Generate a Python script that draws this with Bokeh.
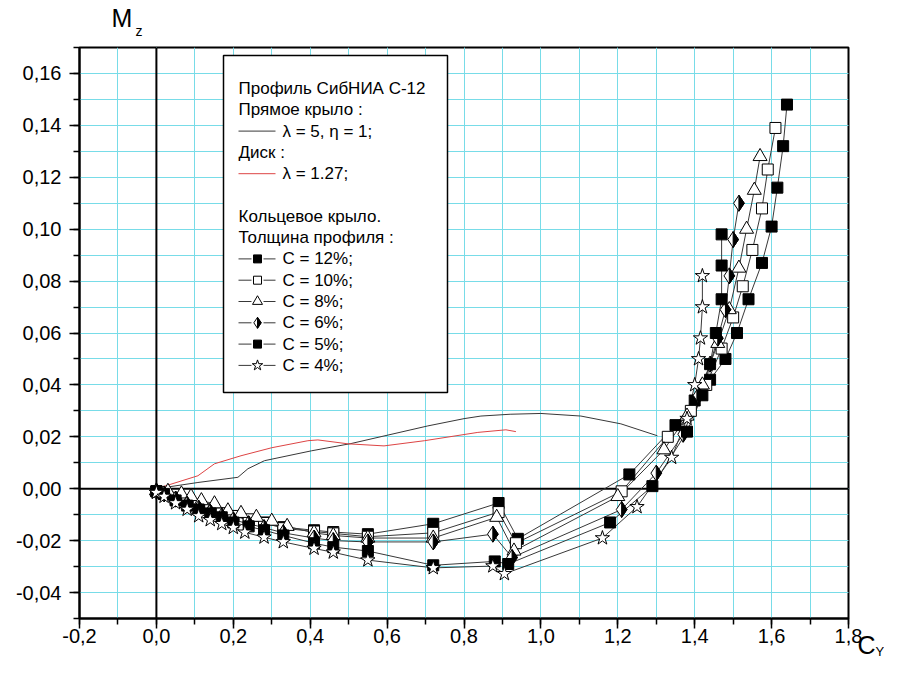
from bokeh.plotting import figure
from bokeh.models import (Range1d, SingleIntervalTicker, CustomJSTickFormatter, Span, Label)
from bokeh.embed import file_html
from bokeh.resources import INLINE

# ---------------- data ----------------
wing_cy = [0.0, 0.108, 0.212, 0.238, 0.281, 0.403, 0.506, 0.706, 0.80, 0.844, 0.92, 1.0, 1.104, 1.208, 1.303]
wing_mz = [0.0, 0.0024, 0.0044, 0.0077, 0.0108, 0.0146, 0.0174, 0.0242, 0.027, 0.028, 0.0287, 0.029, 0.028, 0.025, 0.0204]

disc_cy = [0.0, 0.108, 0.151, 0.22, 0.30, 0.394, 0.42, 0.498, 0.592, 0.697, 0.836, 0.909, 0.935]
disc_mz = [0.0, 0.005, 0.0096, 0.0127, 0.0158, 0.0185, 0.0188, 0.0173, 0.0165, 0.0185, 0.0217, 0.0227, 0.022]

c12_cy = [0.0, 0.02, 0.05, 0.08, 0.11, 0.14, 0.17, 0.20, 0.24, 0.28, 0.33, 0.41, 0.46, 0.55, 0.72, 0.89, 0.94,
          1.23, 1.35, 1.40, 1.44, 1.48, 1.51, 1.54, 1.575, 1.60, 1.615, 1.63, 1.64]
c12_mz = [-0.001, -0.002, -0.004, -0.0055, -0.007, -0.008, -0.0095, -0.0105, -0.012, -0.013, -0.0148, -0.016,
          -0.0167, -0.0175, -0.0135, -0.0055, -0.0193, 0.0055, 0.0245, 0.034, 0.042, 0.050, 0.060, 0.073,
          0.087, 0.101, 0.116, 0.132, 0.148]

c10_cy = [0.0, 0.02, 0.05, 0.08, 0.11, 0.14, 0.17, 0.20, 0.24, 0.28, 0.33, 0.41, 0.46, 0.55, 0.72, 0.89, 0.935,
          1.21, 1.33, 1.39, 1.43, 1.47, 1.50, 1.525, 1.55, 1.575, 1.59, 1.61]
c10_mz = [-0.001, -0.0015, -0.0035, -0.005, -0.0065, -0.008, -0.0095, -0.0105, -0.0118, -0.0132, -0.0152,
          -0.0165, -0.0172, -0.0185, -0.017, -0.009, -0.021, -0.001, 0.020, 0.030, 0.040, 0.054, 0.066, 0.078,
          0.092, 0.108, 0.123, 0.139]

c8_cy = [0.0, 0.03, 0.065, 0.09, 0.117, 0.151, 0.186, 0.22, 0.26, 0.30, 0.34, 0.41, 0.46, 0.55, 0.72, 0.885, 0.93,
         1.20, 1.32, 1.38, 1.42, 1.46, 1.49, 1.515, 1.535, 1.555, 1.57]
c8_mz = [-0.0008, -0.001, -0.002, -0.003, -0.0046, -0.0058, -0.0085, -0.0095, -0.011, -0.0125, -0.0145, -0.017,
         -0.018, -0.019, -0.019, -0.011, -0.024, -0.003, 0.015, 0.028, 0.040, 0.056, 0.069, 0.085, 0.100,
         0.115, 0.128]

c6_cy = [0.0, 0.02, 0.05, 0.08, 0.11, 0.14, 0.17, 0.20, 0.24, 0.28, 0.33, 0.41, 0.46, 0.55, 0.72, 0.875, 0.925,
         1.21, 1.30, 1.37, 1.41, 1.44, 1.46, 1.48, 1.49, 1.50, 1.515]
c6_mz = [-0.001, -0.002, -0.004, -0.006, -0.0075, -0.009, -0.0105, -0.012, -0.0135, -0.015, -0.017, -0.019,
         -0.020, -0.0205, -0.0205, -0.0175, -0.0265, -0.008, 0.006, 0.021, 0.036, 0.048, 0.058, 0.069, 0.082,
         0.096, 0.110]

c5_cy = [0.0, 0.02, 0.05, 0.08, 0.11, 0.14, 0.17, 0.20, 0.24, 0.28, 0.33, 0.41, 0.46, 0.55, 0.72, 0.88, 0.915,
         1.18, 1.29, 1.38, 1.42, 1.44, 1.455, 1.47, 1.47, 1.47]
c5_mz = [-0.001, -0.002, -0.0045, -0.0065, -0.008, -0.0095, -0.011, -0.013, -0.0145, -0.016, -0.018, -0.021,
         -0.0225, -0.024, -0.0295, -0.028, -0.029, -0.013, 0.001, 0.022, 0.036, 0.048, 0.060, 0.073, 0.086, 0.098]

c4_cy = [0.0, 0.02, 0.05, 0.08, 0.11, 0.14, 0.17, 0.20, 0.23, 0.28, 0.33, 0.41, 0.46, 0.55, 0.72, 0.875, 0.905,
         1.16, 1.25, 1.34, 1.38, 1.40, 1.41, 1.415, 1.42, 1.42]
c4_mz = [-0.0015, -0.003, -0.0055, -0.008, -0.0105, -0.012, -0.0135, -0.015, -0.0168, -0.0187, -0.0205, -0.023,
         -0.0245, -0.0275, -0.0305, -0.0298, -0.0328, -0.019, -0.007, 0.012, 0.027, 0.040, 0.050, 0.058, 0.070,
         0.082]

legend_head = ["Профиль СибНИА С-12", "Прямое крыло :", "Диск :", "Кольцевое крыло.", "Толщина профиля :"]
wing_label = "λ = 5, η = 1;"
disc_label = "λ = 1.27;"
ring_labels = ["C = 12%;", "C = 10%;", "C = 8%;", "C = 6%;", "C = 5%;", "C = 4%;"]

# ---------------- layout ----------------
W, H = 884, 659
FL, FT, FR, FB = 79, 47, 36, 41
X0, X1 = -0.2, 1.8
Y0, Y1 = -0.05, 0.17
FW = W - FL - FR
FH = H - FT - FB
FONT = "Liberation Sans"
GRID = "#78dce8"
LINE = "#383838"


def dx(px):
    return px * (X1 - X0) / FW


def dy(py):
    return py * (Y1 - Y0) / FH


def ix(px):  # canvas pixel -> data x
    return X0 + (px - FL) * (X1 - X0) / FW


def iy(py):  # canvas pixel -> data y
    return Y1 - (py - FT) * (Y1 - Y0) / FH


p = figure(width=W, height=H, output_backend="svg", toolbar_location=None,
           x_range=Range1d(X0, X1), y_range=Range1d(Y0, Y1),
           min_border_left=FL, min_border_right=FR, min_border_top=FT, min_border_bottom=FB)
p.background_fill_color = "white"
p.border_fill_color = "white"
p.outline_line_color = "black"
p.outline_line_width = 2

p.xaxis.ticker = SingleIntervalTicker(interval=0.2, num_minor_ticks=2)
p.yaxis.ticker = SingleIntervalTicker(interval=0.02, num_minor_ticks=2)
p.xaxis.formatter = CustomJSTickFormatter(
    code="const v = Math.abs(tick) < 1e-9 ? 0 : tick; return v.toFixed(1).replace('.', ',');")
p.yaxis.formatter = CustomJSTickFormatter(
    code="const v = Math.abs(tick) < 1e-9 ? 0 : tick; return v.toFixed(2).replace('.', ',');")

for ax in (p.xaxis, p.yaxis):
    ax.axis_line_color = "black"
    ax.axis_line_width = 2
    ax.major_tick_line_color = "black"
    ax.minor_tick_line_color = "black"
    ax.major_tick_line_width = 1.5
    ax.minor_tick_line_width = 1.5
    ax.major_tick_in = 0
    ax.minor_tick_in = 0
    ax.major_tick_out = 10
    ax.minor_tick_out = 6
    ax.major_label_text_font = FONT
    ax.major_label_text_font_size = "20px"
    ax.major_label_text_color = "black"
p.xaxis.major_label_standoff = 0
p.yaxis.major_label_standoff = 8

for g in (p.xgrid, p.ygrid):
    g.grid_line_color = GRID
    g.grid_line_width = 1
    g.minor_grid_line_color = GRID
    g.minor_grid_line_width = 1

p.add_layout(Span(location=0, dimension="height", line_color="black", line_width=2, level="underlay"))
p.add_layout(Span(location=0, dimension="width", line_color="black", line_width=2, level="underlay"))

# ---------------- curves ----------------
p.line(wing_cy, wing_mz, line_color=LINE, line_width=1)
p.line(disc_cy, disc_mz, line_color="#dd4444", line_width=1)

series = [
    (c12_cy, c12_mz, "square", "black", 11),
    (c10_cy, c10_mz, "square", "white", 11),
    (c8_cy, c8_mz, "triangle", "white", 14),
    (c6_cy, c6_mz, "diamond", "white", 16),
    (c5_cy, c5_mz, "square", "black", 11),
    (c4_cy, c4_mz, "star", "white", 15),
]

for xs, ys, m, fc, s in series:
    p.line(xs, ys, line_color=LINE, line_width=1)


def half_diamond(xs, ys, size):
    r = size / 2.0
    pxs, pys = [], []
    for x, y in zip(xs, ys):
        pxs.append([x, x + dx(r / 1.5), x])
        pys.append([y + dy(r), y, y - dy(r)])
    return pxs, pys


def draw_marker(xs, ys, m, fc, s):
    p.scatter(xs, ys, marker=m, size=s, fill_color=fc, line_color="black", line_width=1)
    if m == "diamond":
        hx, hy = half_diamond(xs, ys, s)
        p.patches(hx, hy, fill_color="black", line_color="black", line_width=1)


for xs, ys, m, fc, s in series:
    draw_marker(xs, ys, m, fc, s)

# ---------------- legend box ----------------
p.quad(left=ix(223), right=ix(447), top=iy(55), bottom=iy(392),
       fill_color="white", line_color="black", line_width=1.5)

row_y = [88 + 21.3 * k for k in range(14)]
TX = 238
SX = 282


def txt(text, px, py, size="17px"):
    p.add_layout(Label(x=ix(px), y=iy(py), text=text, text_font=FONT, text_font_size=size,
                       text_color="black", text_baseline="middle", text_align="left"))


txt(legend_head[0], TX, row_y[0])
txt(legend_head[1], TX, row_y[1])
p.line([ix(238), ix(275)], [iy(row_y[2])] * 2, line_color=LINE, line_width=1)
txt(wing_label, SX, row_y[2])
txt(legend_head[2], TX, row_y[3])
p.line([ix(238), ix(275)], [iy(row_y[4])] * 2, line_color="#dd4444", line_width=1)
txt(disc_label, SX, row_y[4])
txt(legend_head[3], TX, row_y[6])
txt(legend_head[4], TX, row_y[7])

leg_sizes = [8, 8, 10, 11, 8, 11]
for k, ((xs, ys, m, fc, s), lab, ls) in enumerate(zip(series, ring_labels, leg_sizes)):
    yy = iy(row_y[8 + k])
    p.line([ix(238), ix(251)], [yy, yy], line_color=LINE, line_width=1)
    p.line([ix(263), ix(275)], [yy, yy], line_color=LINE, line_width=1)
    draw_marker([ix(257)], [yy], m, fc, ls)
    txt(lab, SX, row_y[8 + k])


# ---------------- axis titles (labels held in side panels so they are not clipped) ----------------
def side_label(text, px, py, size, side):
    p.add_layout(Label(x=ix(px), y=iy(py), text=text, text_font=FONT, text_font_size=size,
                       text_align="left", text_baseline="middle", text_color="black"), side)


side_label("M", 111, 17, "25px", "above")
side_label("z", 135, 30, "14px", "above")
side_label("C", 857, 644, "25px", "right")
side_label("Y", 875, 651, "13px", "right")

open("out.html", "w").write(file_html(p, INLINE))
